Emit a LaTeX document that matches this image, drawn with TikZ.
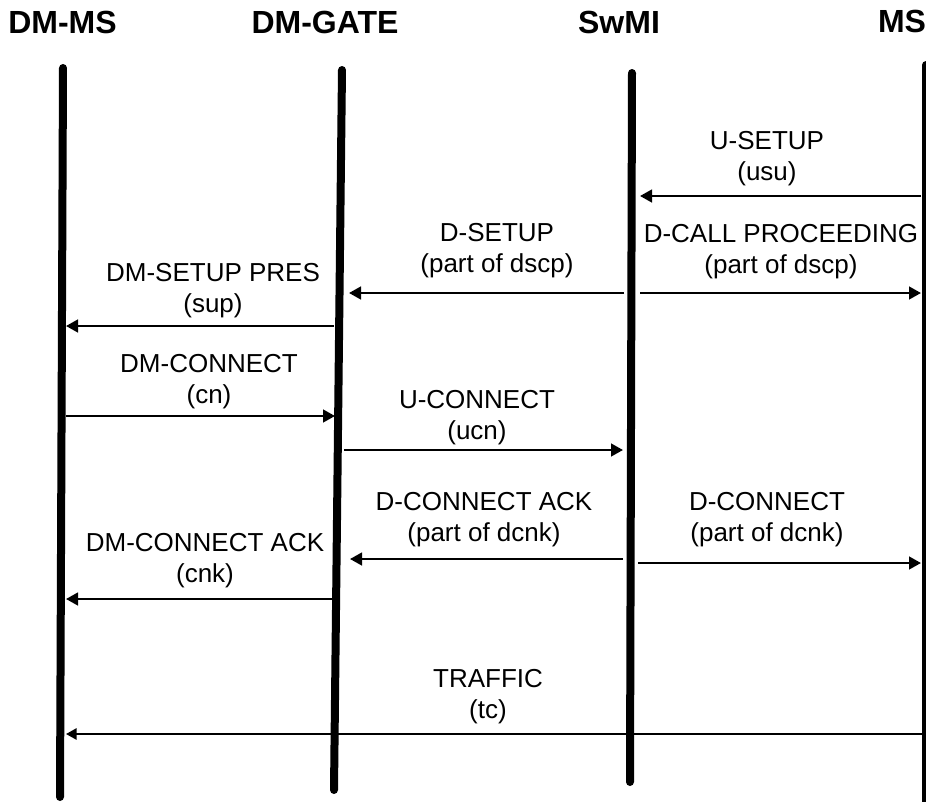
\documentclass[tikz,border=0pt]{standalone}
\usepackage{fontspec}
\setmainfont{Liberation Sans}
\usetikzlibrary{arrows.meta}

\begin{document}
\begin{tikzpicture}[x=0.75pt, y=-0.75pt,
        life/.style = {line width=6pt, line cap=round},
        msg/.style = {line width=1.8pt, -{Triangle[length=9pt, width=9.5pt]}},
        traffic/.style = {line width=1.4pt, -{Triangle[length=8pt, width=8.5pt]}},
        lbl/.style = {align=center, inner sep=0pt, font=\fontsize{19.5}{23.25}\selectfont},
        head/.style = {inner sep=0pt, font=\bfseries\fontsize{24}{28}\selectfont}]
        \useasboundingbox (0, 0) rectangle (926, 801);
        % entities
        \node [head] (dmms) at (62.5, 22) {DM-MS};
        \node [head] (gate) at (325, 22) {DM-GATE};
        \node [head] (swmi) at (619, 22) {SwMI};
        \node [head] (ms) at (902, 21) {MS};
        % lifelines
        \coordinate (dmmsT) at (63, 68);   \coordinate (dmmsB) at (60, 797);
        \coordinate (gateT) at (342, 70);  \coordinate (gateB) at (334, 790);
        \coordinate (swmiT) at (632, 73);  \coordinate (swmiB) at (630, 782);
        \coordinate (msT) at (926, 65);    \coordinate (msB) at (926, 806);
        \draw [life] (dmmsT) -- (dmmsB);
        \draw [life] (gateT) -- (gateB);
        \draw [life] (swmiT) -- (swmiB);
        \draw [life] (msT) -- (msB);
        % message ends
        \foreach \n/\x/\y in {usuA/921/196, usuB/640/196,
                dscpA/624/293, dscpB/349/293, dscpC/640/293, dscpD/921/293,
                supA/334/326, supB/66/326, cnA/66/416, cnB/335/416,
                ucnA/344/450, ucnB/623/450,
                dcnkA/623/559, dcnkB/350/559, dcnkC/638/563, dcnkD/921/563,
                cnkA/332/599, cnkB/66/599, tcA/926/734, tcB/66/734}
            \coordinate (\n) at (\x, \y);
        % messages
        \draw [msg] (usuA) -- (usuB);
        \node [lbl] (usu) at (767, 159) {U-SETUP\\(usu)};
        \draw [msg] (dscpA) -- (dscpB);
        \node [lbl] (dsetup) at (497, 251) {D-SETUP\\(part of dscp)};
        \draw [msg] (dscpC) -- (dscpD);
        \node [lbl] (dcallp) at (781, 252) {D-CALL PROCEEDING\\(part of dscp)};
        \draw [msg] (supA) -- (supB);
        \node [lbl] (sup) at (213, 291) {DM-SETUP PRES\\(sup)};
        \draw [msg] (cnA) -- (cnB);
        \node [lbl] (cn) at (209, 382) {DM-CONNECT\\(cn)};
        \draw [msg] (ucnA) -- (ucnB);
        \node [lbl] (ucn) at (477, 418) {U-CONNECT\\(ucn)};
        \draw [msg] (dcnkA) -- (dcnkB);
        \node [lbl] (dcack) at (484, 520) {D-CONNECT ACK\\(part of dcnk)};
        \draw [msg] (dcnkC) -- (dcnkD);
        \node [lbl] (dconn) at (767, 520) {D-CONNECT\\(part of dcnk)};
        \draw [msg] (cnkA) -- (cnkB);
        \node [lbl] (cnk) at (205, 561) {DM-CONNECT ACK\\(cnk)};
        \draw [traffic] (tcA) -- (tcB);
        \node [lbl] (tc) at (488, 697) {TRAFFIC\\(tc)};
\end{tikzpicture}
\end{document}
